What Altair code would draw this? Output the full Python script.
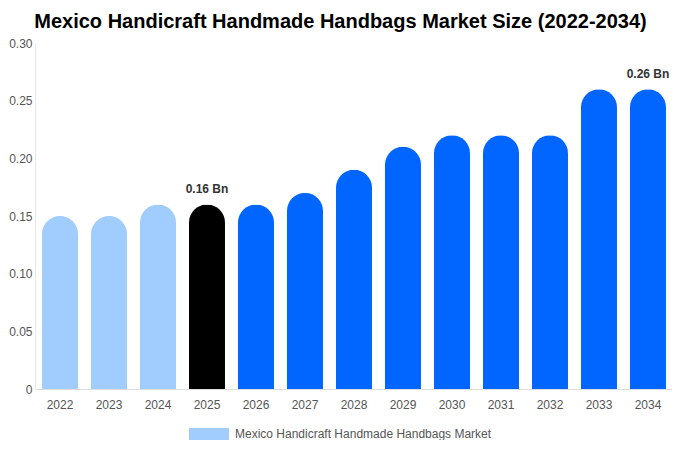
import altair as alt
import pandas as pd

years = ["2022", "2023", "2024", "2025", "2026", "2027", "2028",
         "2029", "2030", "2031", "2032", "2033", "2034"]
values = [0.15, 0.15, 0.16, 0.16, 0.16, 0.17, 0.19, 0.21, 0.22, 0.22, 0.22, 0.26, 0.26]
labels = ["", "", "", "0.16 Bn", "", "", "", "", "", "", "", "", "0.26 Bn"]
series_name = "Mexico Handicraft Handmade Handbags Market"

df = pd.DataFrame({
    "year": years,
    "value": values,
    "label": labels,
    "series": [series_name] * len(years),
    "yr": [int(y) for y in years],
})

FONT = "Liberation Sans"

x = alt.X("year:N", title=None,
          scale=alt.Scale(paddingInner=0.2653, paddingOuter=0.1327, align=0.538),
          axis=alt.Axis(labelAngle=0, ticks=False, labelPadding=10, labelFontSize=12,
                        labelColor="#555555", domainColor="#dddddd", labelFont=FONT))
y = alt.Y("value:Q", title=None,
          scale=alt.Scale(domain=[0, 0.30]),
          axis=alt.Axis(values=[0, 0.05, 0.10, 0.15, 0.20, 0.25, 0.30], grid=False,
                        ticks=False, labelPadding=3, labelFontSize=12, labelColor="#555555",
                        domainColor="#e6e6e6", labelFont=FONT,
                        labelExpr="datum.value == 0 ? '0' : format(datum.value, '.2f')"))

bars = alt.Chart(df).mark_bar(cornerRadiusTopLeft=18, cornerRadiusTopRight=18).encode(
    x=x,
    y=y,
    color=alt.Color(
        "series:N",
        scale=alt.Scale(range=["#a0cdfd"]),
        legend=alt.Legend(title=None, orient="none", legendX=154, legendY=371,
                          symbolType="M-1,-0.3L1,-0.3L1,0.3L-1,0.3Z", symbolSize=1600,
                          symbolStrokeWidth=0, labelFontSize=12, labelColor="#555555",
                          labelFont=FONT, labelOffset=6, labelLimit=400),
        condition=[
            {"test": "datum.yr == 2025", "value": "#000000"},
            {"test": "datum.yr > 2025", "value": "#0066ff"},
        ],
    ),
)

text = alt.Chart(df).mark_text(dy=-8, fontSize=12, fontWeight="bold", color="#333333",
                               font=FONT, baseline="bottom").encode(
    x=x, y=y, text="label:N"
)

chart = (bars + text).properties(
    width=637,
    height=346,
    padding={"left": 27, "top": 35, "right": 0, "bottom": 51},
    autosize=alt.AutoSizeParams(type="none"),
    title=alt.TitleParams(
        "Mexico Handicraft Handmade Handbags Market Size (2022-2034)",
        fontSize=20, fontWeight="bold", font=FONT, color="#000000", dx=-13, offset=5,
    ),
).configure_view(stroke=None)

chart.save("out.html", embed_options={"renderer": "svg", "actions": False})
